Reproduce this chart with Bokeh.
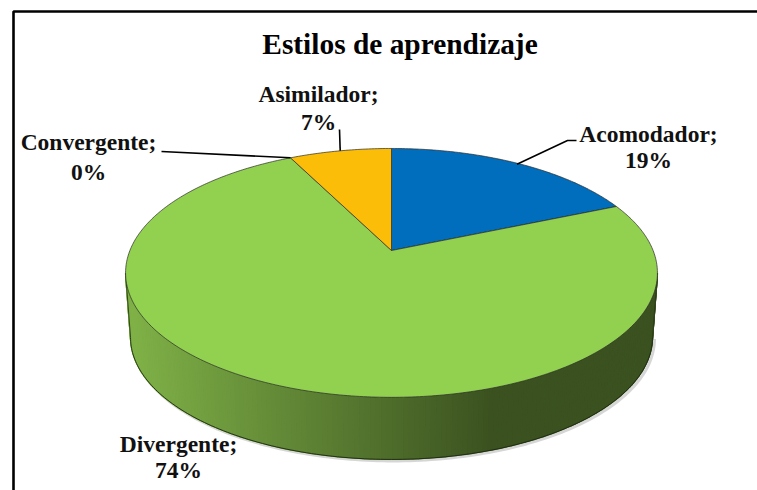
import numpy as np
from bokeh.embed import file_html
from bokeh.models import Range1d
from bokeh.plotting import figure
from bokeh.resources import INLINE
from bokeh.core.properties import value

# Data (clockwise from the top)
categories = ["Acomodador", "Divergente", "Convergente", "Asimilador"]
shares = [18.6, 74.0, 0.0, 7.4]
colors = ["#016EBD", "#92D050", "#A5A5A5", "#FBBD08"]
title = "Estilos de aprendizaje"

FONT = value("Liberation Serif")
# Pie geometry in screen pixels (projective circle)
CX, CY, R, RY, K = 391.0, 250.0, 261.6, 120.4, 0.18
BCY, BR, BRY = 315.0, 256.7, 118.0

def rim(t, cy=CY, rx=R, ry=RY):
    t = np.asarray(t, dtype=float)
    w = 1 + K * np.cos(t)
    return CX + rx * np.sin(t) / w, cy - ry * np.cos(t) / w

def mix(c1, c2, f):
    a = [int(c1[i:i + 2], 16) for i in (1, 3, 5)]
    b = [int(c2[i:i + 2], 16) for i in (1, 3, 5)]
    return "#%02x%02x%02x" % tuple(round(x + (y - x) * f) for x, y in zip(a, b))

p = figure(width=757, height=490, output_backend="svg", toolbar_location=None,
           x_range=Range1d(0, 757), y_range=Range1d(490, 0),
           min_border=0, outline_line_color=None)
p.axis.visible = False
p.grid.visible = False

# Frame of the picture
p.line([13, 13, 757], [490, 11, 11], line_color="#000000", line_width=2.6)

# Front wall
lim = np.arccos(-K)
edges = np.linspace(lim, 2 * np.pi - lim, 161)
# soft shadow
sx, sy = rim(edges, BCY, BR, BRY)
p.line(sx + 2, sy + 1.5, line_color="#000000", line_alpha=0.16, line_width=3)
for a, b in zip(edges[:-1], edges[1:]):
    tx, ty = rim([a, b])
    bx, by = rim([b, a], BCY, BR, BRY)
    f = min(1.0, max(0.0, (tx.mean() - 130) / 360))
    c = mix("#7FB147", "#3B5220", f)
    p.patch(list(tx) + list(bx), list(ty) + list(by), fill_color=c, line_color=c, line_width=1.3)
p.line(sx, sy, line_color="#1c2a10", line_width=0.9)
for t in (lim, 2 * np.pi - lim):
    x0, y0 = rim(t)
    x1, y1 = rim(t, BCY, BR, BRY)
    p.line([float(x0), float(x1)], [float(y0), float(y1)], line_color="#2a3a18", line_width=0.9)

# Top slices
bounds = np.concatenate([[0], np.cumsum(shares)]) / sum(shares) * 2 * np.pi
mids = {}
for cat, col, a, b in zip(categories, colors, bounds[:-1], bounds[1:]):
    mids[cat] = (a + b) / 2
    if b - a <= 0:
        continue
    ts = np.linspace(a, b, max(3, int((b - a) * 80)))
    x, y = rim(ts)
    p.patch([CX] + list(x), [CY] + list(y), fill_color=col,
            line_color="#2b2b2b", line_width=0.7, line_join="round")

# Labels
label_x = [648, 178, 88, 318]
label_y1 = [133, 443, 141, 93]
label_y2 = [159, 469, 171, 121]
percent = [f"{round(v)}%" for v in shares]
p.text(label_x, label_y1, text=[c + ";" for c in categories], text_font=FONT, text_font_style="bold",
       text_font_size="23.5px", text_align="center", text_baseline="alphabetic", text_color="#111111")
p.text(label_x, label_y2, text=percent, text_font=FONT, text_font_style="bold",
       text_font_size="23.5px", text_align="center", text_baseline="alphabetic", text_color="#111111")
p.text([399.5], [43], text=[title], text_font=FONT, text_font_style="bold", text_font_size="29.4px",
       text_align="center", text_baseline="alphabetic", text_color="#000000")

# Leader lines ending on the rim at each slice's middle angle
ax, ay = rim(mids["Acomodador"])
p.line([576, 567, float(ax)], [140, 140, float(ay) + 1], line_color="#000000", line_width=1.6)
ax, ay = rim(mids["Asimilador"])
p.line([339, float(ax)], [129, float(ay)], line_color="#000000", line_width=1.6)
ax, ay = rim(mids["Convergente"])
p.line([161, float(ax)], [151, float(ay)], line_color="#000000", line_width=1.6)

open("out.html", "w").write(file_html(p, INLINE))
